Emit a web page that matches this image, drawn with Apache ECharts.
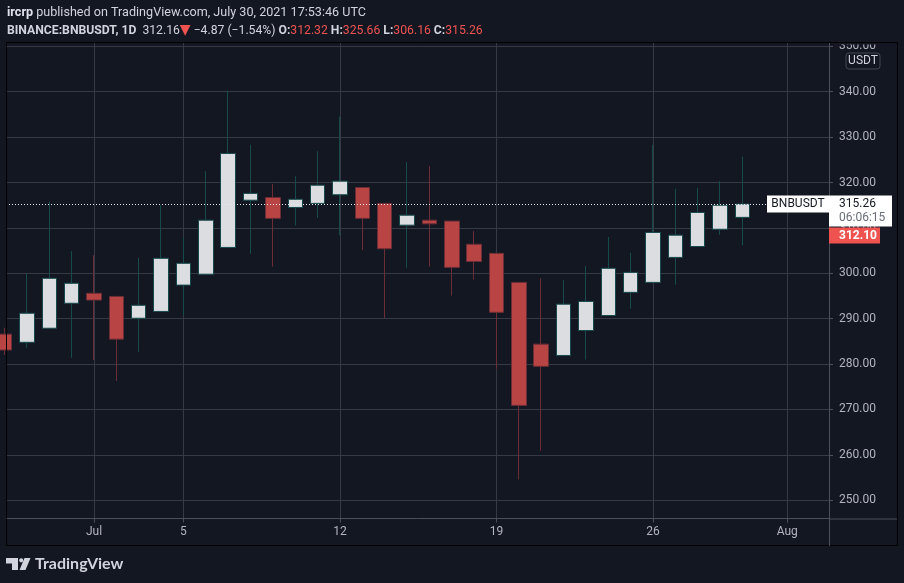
<!DOCTYPE html>
<html>
<head>
<meta charset="utf-8">
<script src="https://cdn.jsdelivr.net/npm/echarts@6/dist/echarts.min.js"></script>
<style>
html,body{margin:0;padding:0;background:#131722;}
#c{width:904px;height:583px;}
</style>
</head>
<body>
<div id="c"></div>
<script>
// ---- data (day index: 1 = Jul 1, 2021) ----
const days   = [-3,-2,-1,0,1,2,3,4,5,6,7,8,9,10,11,12,13,14,15,16,17,18,19,20,21,22,23,24,25,26,27,28,29,30];
const opens  = [286.6,284.8,287.9,293.4,295.6,294.9,290.1,291.6,297.4,299.8,305.7,316.1,316.7,314.5,315.4,317.3,318.9,315.4,310.6,311.7,311.5,306.4,304.4,298.0,284.4,281.9,287.4,290.7,295.8,298.0,303.5,305.9,309.7,312.32];
const closes = [283.1,291.2,298.9,297.8,294.1,285.5,292.95,303.3,302.2,311.7,326.4,317.6,312.1,316.3,319.4,320.3,312.1,305.4,312.8,310.9,301.3,302.6,291.4,270.9,279.5,293.2,293.8,301.1,300.2,309.0,308.4,313.4,315.0,315.26];
const lows   = [282.0,283.6,287.9,281.4,280.9,276.3,282.7,291.6,290.8,299.8,305.7,304.3,301.5,310.5,312.2,308.4,305.1,290.1,301.2,301.5,295.1,298.6,278.9,254.6,260.9,281.9,281.0,290.7,292.2,298.0,297.5,305.9,308.5,306.16];
const highs  = [288.0,300.0,315.8,304.9,304.0,294.9,303.4,315.0,307.8,322.5,340.2,328.3,319.7,321.4,326.9,334.5,318.9,315.4,324.5,323.6,311.5,309.3,304.4,298.0,298.9,298.5,301.6,308.0,304.5,328.3,318.6,318.8,320.3,325.66];

const timeTicks  = [1,5,12,19,26,32];
const timeLabels = ['Jul','5','12','19','26','Aug'];
const priceTicks = [250,260,270,280,290,300,310,320,330,340,350];

const symbolName = 'BNBUSDT';
const lastPrice = 315.26;
const countdown = '06:06:15';
const bidPrice = 312.10;
const headerPrice = 312.16;
const headerChange = '\u22124.87 (\u22121.54%)';

// ---- layout constants ----
const xMin = -2.936, xMax = 33.87;
const yMin = 245.99, yMax = 350.73;
const BG = '#131722';
const GRID = '#363a45';
const AXIS = '#4c505b';
const TXT = '#b2b5be';
const FONT = 'Roboto, "Liberation Sans", sans-serif';

const candleData = days.map((d, i) => [d, opens[i], closes[i], lows[i], highs[i]]);

const chart = echarts.init(document.getElementById('c'), null, {renderer: 'canvas'});

const option = {
  backgroundColor: BG,
  animation: false,
  grid: {left: 6, right: 75, top: 43, bottom: 64.5, containLabel: false},
  xAxis: {
    type: 'value', min: xMin, max: xMax,
    axisLine: {show: true, lineStyle: {color: AXIS}},
    axisTick: {show: true, length: 4, customValues: timeTicks, lineStyle: {color: AXIS}},
    axisLabel: {
      customValues: timeTicks, color: TXT, fontSize: 12, fontFamily: FONT, margin: 7,
      formatter: v => timeLabels[timeTicks.indexOf(Math.round(v))] || ''
    },
    splitLine: {show: true, lineStyle: {color: GRID, width: 1}}
  },
  yAxis: {
    type: 'value', position: 'right', min: yMin, max: yMax,
    axisLine: {show: true, onZero: false, lineStyle: {color: AXIS}},
    axisTick: {show: true, length: 4, customValues: priceTicks, lineStyle: {color: AXIS}},
    axisLabel: {
      customValues: priceTicks, color: TXT, fontSize: 12, fontFamily: FONT, margin: 10,
      formatter: v => v.toFixed(2)
    },
    splitLine: {show: true, lineStyle: {color: GRID, width: 1}}
  },
  series: [{
    type: 'candlestick',
    encode: {x: 0, y: [1, 2, 3, 4]},
    data: candleData,
    barWidth: 15,
    clip: true,
    itemStyle: {
      color: '#dcdde0', color0: '#b84444',
      borderColor: '#174a4d', borderColor0: '#6c2e36',
      borderWidth: 1
    },
    markLine: {
      silent: true, symbol: 'none', animation: false,
      label: {show: false},
      lineStyle: {color: '#e6e8ee', type: [1, 2], width: 1},
      data: [[{coord: [xMin, lastPrice]}, {coord: [xMax, lastPrice]}]]
    }
  }]
};
chart.setOption(option);

// ---- overlays placed via the chart's own scales ----
const axX = chart.convertToPixel({xAxisIndex: 0}, xMax);
const axLeft = chart.convertToPixel({xAxisIndex: 0}, xMin);
const yLast = chart.convertToPixel({yAxisIndex: 0}, lastPrice);
const yBottom = chart.convertToPixel({yAxisIndex: 0}, yMin);
const yTop = chart.convertToPixel({yAxisIndex: 0}, yMax);
const frameR = 897, frameB = 546;

const priceBoxTop = yLast - 8.5;
const priceBoxH = 31;
const redTop = priceBoxTop + priceBoxH + 1;

const n = closes.length - 1;
const f2 = v => v.toFixed(2);

const graphics = [
  // mask clipping the top price label at the pane border
  {type: 'rect', z: 90, shape: {x: axX + 1, y: 0, width: 904 - axX, height: yTop + 1.5}, style: {fill: BG}},
  // header
  {type: 'text', z: 100, x: 7, y: 13,
    style: {text: '{b|ircrp} published on TradingView.com, July 30, 2021 17:53:46 UTC',
      fill: '#d1d4dc', fontSize: 12.6, fontFamily: FONT, verticalAlign: 'middle',
      rich: {b: {fontWeight: 'bold', fill: '#e0e3eb', fontSize: 12.6, fontFamily: FONT}}}},
  {type: 'text', z: 100, x: 7, y: 30.5,
    style: {text: '{b|BINANCE:BNBUSDT, 1D}  ' + f2(headerPrice) + '{t|\u25BC} ' + headerChange +
        ' {b|O:}{r|' + f2(opens[n]) + '} {b|H:}{r|' + f2(highs[n]) + '} {b|L:}{r|' + f2(lows[n]) + '} {b|C:}{r|' + f2(closes[n]) + '}',
      fill: '#d1d4dc', fontSize: 12.2, fontFamily: FONT, verticalAlign: 'middle',
      rich: {
        b: {fontWeight: 'bold', fill: '#d1d4dc', fontSize: 12.2, fontFamily: FONT},
        r: {fill: '#ef5350', fontSize: 12.2, fontFamily: FONT},
        t: {fill: '#ef5350', fontSize: 14, fontFamily: '"DejaVu Sans", sans-serif'}
      }}},
  // frame
  {type: 'rect', z: 95, shape: {x: axLeft + 0.5, y: yTop - 0.5, width: frameR - axLeft, height: frameB - yTop},
    style: {fill: 'none', stroke: '#000000', lineWidth: 1}},
  {type: 'line', z: 95, shape: {x1: axX + 0.5, y1: yBottom, x2: axX + 0.5, y2: frameB}, style: {stroke: AXIS, lineWidth: 1}},
  {type: 'line', z: 95, shape: {x1: axX, y1: yBottom + 0.5, x2: frameR, y2: yBottom + 0.5}, style: {stroke: AXIS, lineWidth: 1}},
  // currency tag
  {type: 'rect', z: 100, shape: {x: 846, y: 53, width: 34, height: 16, r: 3},
    style: {fill: BG, stroke: '#434651', lineWidth: 1}},
  {type: 'text', z: 101, x: 863, y: 61,
    style: {text: 'USDT', fill: '#d1d4dc', fontSize: 12, fontFamily: FONT, align: 'center', verticalAlign: 'middle'}},
  // symbol tag on the last-price line
  {type: 'rect', z: 100, shape: {x: 767, y: yLast - 8.5, width: axX - 767, height: 17},
    style: {fill: '#ffffff'}},
  {type: 'text', z: 101, x: (767 + axX) / 2, y: yLast,
    style: {text: symbolName, fill: '#131722', fontSize: 12, fontFamily: FONT, align: 'center', verticalAlign: 'middle'}},
  // last price + countdown box
  {type: 'rect', z: 100, shape: {x: axX, y: priceBoxTop, width: 63, height: priceBoxH},
    style: {fill: '#ffffff'}},
  {type: 'text', z: 101, x: axX + 10, y: yLast,
    style: {text: f2(lastPrice), fill: '#131722', fontSize: 12, fontFamily: FONT, verticalAlign: 'middle'}},
  {type: 'text', z: 101, x: axX + 10, y: yLast + 14,
    style: {text: countdown, fill: '#6a6d78', fontSize: 12, fontFamily: FONT, verticalAlign: 'middle'}},
  // bid box
  {type: 'rect', z: 100, shape: {x: axX, y: redTop, width: 51, height: 16},
    style: {fill: '#ef5350'}},
  {type: 'text', z: 101, x: axX + 10, y: redTop + 8,
    style: {text: f2(bidPrice), fill: '#ffffff', fontSize: 12, fontWeight: 'bold', fontFamily: FONT, verticalAlign: 'middle'}},
  // logo
  {type: 'polygon', z: 100, shape: {points: [[6,558],[18,558],[18,570],[12,570],[12,563.5],[6,563.5]]}, style: {fill: '#d1d4dc'}},
  {type: 'circle', z: 100, shape: {cx: 21.2, cy: 560.3, r: 2.1}, style: {fill: '#d1d4dc'}},
  {type: 'polygon', z: 100, shape: {points: [[24.5,558],[30.5,558],[25.5,570],[19.5,570]]}, style: {fill: '#d1d4dc'}},
  {type: 'text', z: 100, x: 35, y: 564,
    style: {text: 'TradingView', fill: '#d1d4dc', fontSize: 16, fontWeight: 'bold', fontFamily: 'Lato, "Noto Sans", sans-serif', verticalAlign: 'middle'}}
];

chart.setOption({graphic: graphics});
</script>
</body>
</html>
